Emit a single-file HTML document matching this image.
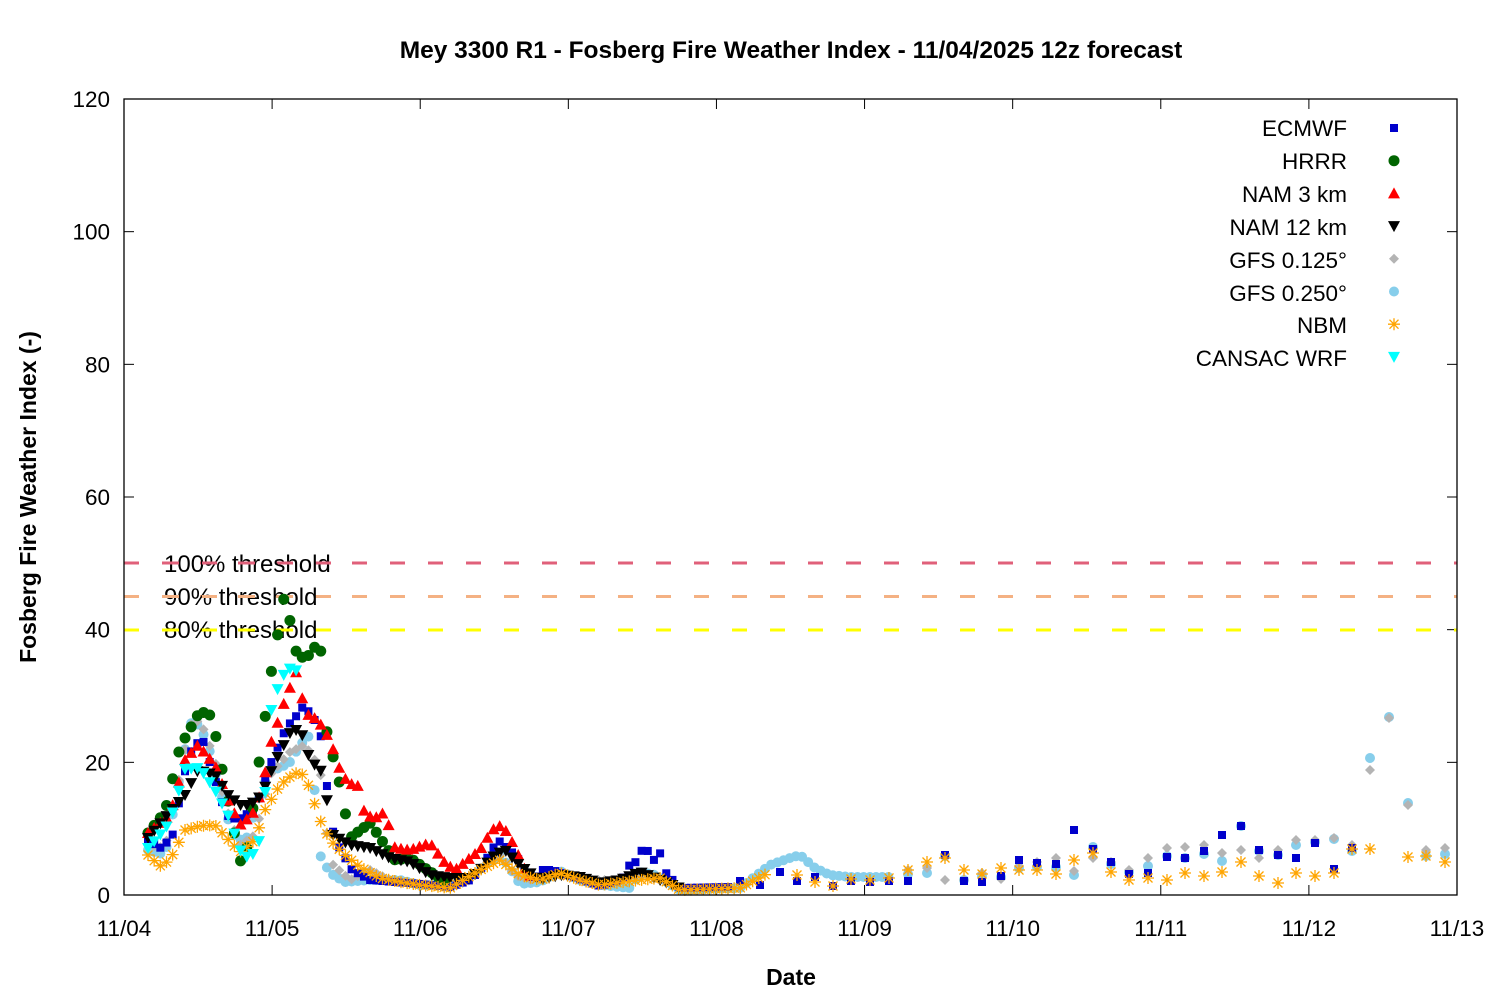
<!DOCTYPE html>
<html><head><meta charset="utf-8"><style>
body{margin:0;background:#fff}
svg text{font-family:"Liberation Sans",sans-serif}
</style></head><body>
<svg id="s" width="1500" height="1000" xmlns="http://www.w3.org/2000/svg">
<rect width="1500" height="1000" fill="#fff"/>
<text x="791" y="58" font-size="24.5" font-weight="bold" text-anchor="middle">Mey 3300 R1 - Fosberg Fire Weather Index - 11/04/2025 12z forecast</text>
<text x="791" y="985" font-size="23" font-weight="bold" text-anchor="middle">Date</text>
<text transform="translate(36,497) rotate(-90)" font-size="23" font-weight="bold" text-anchor="middle">Fosberg Fire Weather Index (-)</text>
<g id="ax"></g>
<g stroke-width="3" stroke-dasharray="15 23" fill="none">
<line x1="124" y1="563" x2="1457" y2="563" stroke="#e0607a"/>
<line x1="124" y1="596.5" x2="1457" y2="596.5" stroke="#f4b183"/>
<line x1="124" y1="630" x2="1457" y2="630" stroke="#ffff00"/>
</g>
<g font-size="24">
<text x="164" y="572">100% threshold</text>
<text x="164" y="605">90% threshold</text>
<text x="164" y="638">80% threshold</text>
</g>
<g stroke-width="3" fill="none">
<line x1="164" y1="563" x2="335" y2="563" stroke="#e0607a" stroke-dasharray="15 23"/>
<line x1="164" y1="596.5" x2="335" y2="596.5" stroke="#f4b183" stroke-dasharray="15 23"/>
<line x1="164" y1="630" x2="335" y2="630" stroke="#ffff00" stroke-dasharray="15 23"/>
</g>
<g id="d"></g>
<g font-size="22.5" text-anchor="end">
<text x="1347" y="136">ECMWF</text>
<text x="1347" y="169">HRRR</text>
<text x="1347" y="202">NAM 3 km</text>
<text x="1347" y="235">NAM 12 km</text>
<text x="1347" y="268">GFS 0.125°</text>
<text x="1347" y="301">GFS 0.250°</text>
<text x="1347" y="333">NBM</text>
<text x="1347" y="366">CANSAC WRF</text>
</g>
<g id="lg"></g>
<rect x="124" y="99" width="1333" height="796" fill="none" stroke="#000" stroke-width="1.3"/>
</svg>
<script>
var NS="http://www.w3.org/2000/svg";
function el(p,t,a){var e=document.createElementNS(NS,t);for(var k in a)e.setAttribute(k,a[k]);p.appendChild(e);return e;}
var ax=document.getElementById('ax');
for(var i=0;i<=6;i++){var y=895-i*20*6.6333;
 el(ax,'line',{x1:124,y1:y,x2:134,y2:y,stroke:'#000'});
 el(ax,'line',{x1:1447,y1:y,x2:1457,y2:y,stroke:'#000'});
 var t=el(ax,'text',{x:110,y:y+8,'font-size':22.5,'text-anchor':'end'});t.textContent=i*20;}
var days=['11/04','11/05','11/06','11/07','11/08','11/09','11/10','11/11','11/12','11/13'];
for(var i=0;i<10;i++){var x=124+i*1333/9;
 el(ax,'line',{x1:x,y1:895,x2:x,y2:885,stroke:'#000'});
 el(ax,'line',{x1:x,y1:99,x2:x,y2:109,stroke:'#000'});
 var t=el(ax,'text',{x:x,y:936,'font-size':22.5,'text-anchor':'middle'});t.textContent=days[i];}
function mk(g,type,x,y){
 switch(type){
 case 'sq':el(g,'rect',{x:x-4,y:y-4,width:8,height:8,fill:'#0000cc'});break;
 case 'ci':el(g,'circle',{cx:x,cy:y,r:5.5,fill:'#006400'});break;
 case 'tu':el(g,'polygon',{points:(x-6)+','+(y+5)+' '+(x+6)+','+(y+5)+' '+x+','+(y-6),fill:'#ff0000'});break;
 case 'td':el(g,'polygon',{points:(x-6)+','+(y-5)+' '+(x+6)+','+(y-5)+' '+x+','+(y+6),fill:'#000'});break;
 case 'di':el(g,'polygon',{points:x+','+(y-5)+' '+(x+5)+','+y+' '+x+','+(y+5)+' '+(x-5)+','+y,fill:'#b4b4b4'});break;
 case 'pe':el(g,'circle',{cx:x,cy:y,r:5,fill:'#87ceeb'});break;
 case 'as':var a='#ffa500';el(g,'path',{d:'M'+(x-6)+' '+y+'H'+(x+6)+'M'+x+' '+(y-6)+'V'+(y+6)+'M'+(x-4.5)+' '+(y-4.5)+'L'+(x+4.5)+' '+(y+4.5)+'M'+(x-4.5)+' '+(y+4.5)+'L'+(x+4.5)+' '+(y-4.5),stroke:a,'stroke-width':1.3});break;
 case 'cy':el(g,'polygon',{points:(x-6)+','+(y-5)+' '+(x+6)+','+(y-5)+' '+x+','+(y+6),fill:'#00ffff'});break;
 }}
function P(s){return s.trim().split(/\s+/).map(function(p){var q=p.split(':');return[+q[0],+q[1]];});}
function interp(k,x){for(var i=0;i<k.length-1;i++){if(x>=k[i][0]&&x<=k[i+1][0]){var f=(x-k[i][0])/(k[i+1][0]-k[i][0]);return k[i][1]+f*(k[i+1][1]-k[i][1]);}}return null;}
var S=[
['pe',P('148:850 165:855 190:723 200:725 210:752 220:790 232:833 245:843 260:795 270:770 280:768 290:762 300:745 310:735 320:855 330:873 345:882 370:880 400:880 420:885 450:885 470:878 485:865 500:855 510:868 520:884 540:882 560:871 580:880 600:885 630:888 640:872 655:875 680:890 740:888 770:865 790:858 800:855 815:868 830:875 850:877 890:877'),890,
 P('908:874 927:873 945:856 964:880 982:876 1001:877 1019:868 1037:867 1056:867 1074:875 1093:847 1111:864 1129:872 1148:866 1167:856 1185:858 1204:854 1222:861 1241:826 1259:851 1278:855 1296:845 1315:842 1334:839 1352:851 1370:758 1389:717 1408:803 1426:856 1445:854')],
['di',P('148:845 165:848 190:725 200:720 215:760 225:805 240:845 255:835 270:775 290:752 305:745 320:768 330:862 350:880 370:870 390:880 420:884 450:888 470:880 490:860 500:855 515:875 530:880 560:872 590:880 620:880 640:875 660:880 680:888'),680,
 P('908:870 927:868 945:880 964:880 982:873 1001:879 1019:866 1037:862 1056:858 1074:871 1093:858 1111:862 1129:870 1148:858 1167:848 1185:847 1204:845 1222:853 1241:850 1259:858 1278:850 1296:840 1315:840 1334:838 1352:845 1370:770 1389:718 1408:805 1426:850 1445:848')],
['sq',P('148:840 160:848 172:838 178:808 184:775 190:753 202:737 214:776 226:815 238:820 256:808 268:770 286:728 298:714 304:705 316:722 322:740 328:796 334:838 352:870 370:880 420:884 450:887 470:880 480:870 498:840 516:856 534:882 540:870 552:870 600:886 618:881 624:877 630:864 636:862 642:850 648:851 654:860 660:853 666:873 680:888 730:887'),730,
 P('740:881 760:885 780:872 797:881 815:877 833:886 851:881 870:882 889:881 908:881 945:855 964:881 982:882 1001:876 1019:860 1037:863 1056:864 1074:830 1093:849 1111:862 1129:874 1148:873 1167:857 1185:858 1204:851 1222:835 1241:826 1259:850 1278:855 1296:858 1315:843 1334:869 1352:848')],
['ci',P('148:833 165:812 180:747 200:711 212:716 222:769 240:862 248:845 262:740 272:667 285:592 295:650 305:660 320:640 326:728 340:785 350:838 370:823 395:860 410:858 450:885'),450,[]],
['tu',P('148:833 170:815 185:760 198:745 215:765 228:800 240:825 252:815 262:790 270:746 285:700 297:670 305:713 318:720 330:740 340:770 348:783 358:786 365:815 375:818 385:812 395:848 410:850 430:843 445:863 455:870 470:858 480:850 492:830 500:826 507:832 515:848 525:870 535:880'),535,[]],
['td',P('148:838 170:812 185:795 198:770 215:775 228:795 240:805 250:805 262:795 275:762 290:733 300:728 310:760 322:772 333:835 350:845 370:848 390:858 410:862 430:875 450:878 470:878 480:870 495:855 505:850 520:866 540:880 560:875 580:877 600:883 620:880 640:872 660:880 680:888'),680,[]],
['as',P('148:855 160:866 170:860 185:830 200:826 215:825 225:836 240:852 255:840 265:810 280:785 295:773 305:775 320:820 330:840 345:855 360:867 380:878 400:882 420:885 450:888 480:870 500:860 520:875 540:880 560:873 580:880 600:885 640:880 660:878 680:890 740:888 770:872'),770,
 P('797:875 815:882 833:886 851:879 870:880 889:878 908:870 927:862 945:858 964:870 982:874 1001:868 1019:870 1037:870 1056:874 1074:860 1093:853 1111:872 1129:880 1148:878 1167:880 1185:873 1204:876 1222:872 1241:862 1259:876 1278:883 1296:873 1315:876 1334:873 1352:849 1370:849 1408:857 1426:856 1445:862')],
['cy',P('148:848 160:835 170:822 185:769 200:768 215:790 228:815 240:850 250:860 262:835 272:702 285:672 295:665 300:690'),300,[]]
];
var d=document.getElementById('d');
S.forEach(function(s){var k=s[1];var end=s[2];
 for(var x=k[0][0];x<=Math.min(end,k[k.length-1][0]);x+=6.17){var y=interp(k,x);if(y!=null)mk(d,s[0],x,y);}
 s[3].forEach(function(p){mk(d,s[0],p[0],p[1]);});});
var lg=document.getElementById('lg');
['sq','ci','tu','td','di','pe','as','cy'].forEach(function(t,i){mk(lg,t,1394,128+i*32.7);});
</script>
</body></html>
